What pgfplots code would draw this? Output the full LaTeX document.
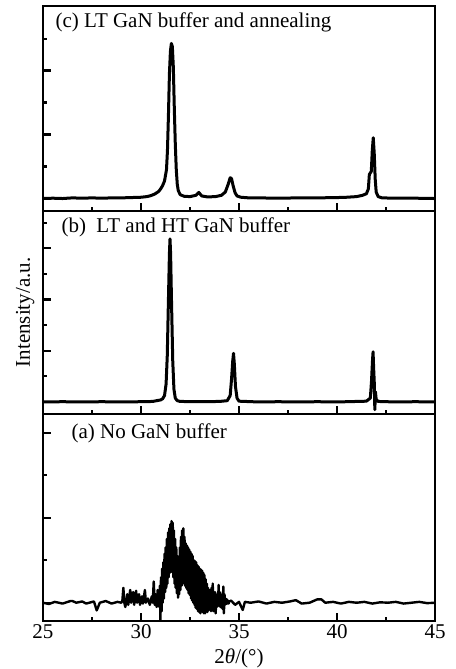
\documentclass[border=0pt]{standalone}
\usepackage{fontspec}
\setmainfont{Liberation Serif}
\usepackage{pgfplots}
\pgfplotsset{compat=1.18}
\begin{document}
\begin{tikzpicture}
\useasboundingbox (0,0) rectangle (455pt,669pt);
\pgfplotsset{
  panel/.style={
    scale only axis, width=392pt, xmin=25, xmax=45,
    xtick={25,30,35,40,45}, minor xtick={27.5,32.5,37.5,42.5},
    tick align=inside, xtick pos=bottom, ytick pos=left,
    yticklabels={}, major tick length=8pt, minor tick length=4pt,
    every tick/.style={black, line width=2.2pt},
    axis line style={line width=2.6pt},
    clip mode=individual,
    /pgf/number format/assume math mode=true,
    tick label style={font=\fontsize{21}{24}\selectfont},
    label style={font=\fontsize{21}{25}\selectfont},
    anchor=south west,
  },
  dat/.style={black, line width=3pt, line join=round, mark=none},
}
% ---------------- panel (a)
\begin{axis}[panel, at={(43pt,48pt)}, height=207pt,
  ymin=-0.43, ymax=4.44, ytick={0,2,4}, minor ytick={1,3},
  xticklabel style={anchor=base, yshift=-18pt},
  xlabel={2\textit{θ}/(°)},
  xlabel style={at={(axis description cs:0.5,-0.203)}, anchor=base}]
\addplot[dat, line width=2.4pt] coordinates {
(25.0,0.0) (25.3,-0.03) (25.6,0.02) (26.0,-0.02) (26.4,0.04) (26.5,0.04) (26.7,0.0) (27.0,0.03) (27.2,-0.02) (27.6,0.03) (27.74,-0.18) (27.9,0.0) (28.2,0.04) (28.5,-0.02) (28.8,0.02) (29.0,0.0)
(29.05,0.05) (29.1,0.35) (29.15,0.0) (29.2,-0.1) (29.3,0.2) (29.35,-0.05) (29.45,0.3) (29.5,0.0) (29.6,0.25) (29.65,-0.05) (29.75,0.28) (29.8,0.0) (29.9,0.2) (29.95,-0.05) (30.05,0.15) (30.1,-0.02) (30.2,0.3) (30.25,0.0) (30.35,0.1) (30.45,-0.05) (30.55,0.15) (30.6,0.0) (30.65,0.5) (30.7,-0.05) (30.75,0.2) (30.8,-0.1) (30.85,0.3)
(30.90,0.15) (30.93,-0.1) (30.96,0.4) (30.99,-0.4) (31.02,0.6) (31.05,-0.2) (31.08,0.8) (31.11,0.0) (31.14,0.95) (31.17,0.1) (31.20,1.15) (31.23,0.25) (31.26,1.3) (31.29,0.35) (31.32,1.5) (31.35,0.45) (31.38,1.65) (31.41,0.6) (31.44,1.75) (31.47,0.7) (31.50,1.85) (31.53,0.77) (31.56,1.92) (31.59,0.72) (31.62,1.88) (31.65,0.6) (31.68,1.7) (31.71,0.45) (31.74,1.5) (31.77,0.35) (31.80,1.3) (31.83,0.22) (31.86,1.1) (31.89,0.12) (31.92,1.05) (31.95,0.2) (31.98,1.3) (32.01,0.3) (32.04,1.55) (32.07,0.4) (32.10,1.7) (32.13,0.5) (32.16,1.75) (32.19,0.45) (32.22,1.55) (32.25,0.4) (32.28,1.4) (32.31,0.35) (32.34,1.35) (32.37,0.3) (32.40,1.3) (32.43,0.22) (32.46,1.25) (32.49,0.18) (32.52,1.2) (32.55,0.1) (32.58,1.15) (32.61,0.05) (32.64,1.1) (32.67,0.0) (32.70,1.0) (32.73,-0.05) (32.76,0.98) (32.79,-0.12) (32.82,0.95) (32.85,-0.15) (32.88,0.88) (32.91,-0.2) (32.94,0.85) (32.97,-0.22) (33.00,0.8) (33.03,-0.25) (33.06,0.78) (33.09,-0.2) (33.12,0.75) (33.15,-0.22) (33.18,0.7) (33.21,-0.25) (33.24,0.65) (33.27,-0.25) (33.30,0.55) (33.33,-0.2) (33.36,0.45) (33.39,-0.22) (33.42,0.35) (33.45,-0.18) (33.48,0.3) (33.51,-0.15) (33.54,0.3) (33.57,-0.2) (33.60,0.35) (33.63,-0.12) (33.66,0.45) (33.69,-0.2) (33.72,0.2) (33.75,-0.1) (33.78,0.25) (33.81,-0.25) (33.84,0.15) (33.87,-0.1) (33.90,0.2) (33.93,-0.08) (33.96,0.42) (33.99,-0.05) (34.02,0.25) (34.05,-0.1) (34.08,0.15) (34.11,-0.12) (34.14,0.2) (34.17,-0.15) (34.20,0.38) (34.23,-0.25) (34.26,0.2) (34.29,-0.05) (34.32,0.1) (34.35,-0.03) (34.38,0.08) (34.41,-0.02) (34.44,0.05) (34.47,-0.02) (34.50,0.03)
(34.6,0.05) (34.8,-0.05) (35.0,0.02) (35.19,-0.17) (35.3,0.02) (35.6,0.0) (36.0,0.03) (36.4,-0.02) (36.8,0.02) (37.2,0.0) (37.6,0.03) (37.9,0.06) (38.2,-0.02) (38.6,0.0) (39.0,0.08) (39.2,0.08) (39.4,0.0) (39.8,0.02) (40.2,-0.02) (40.6,0.02) (41.0,0.0) (41.4,0.02) (41.8,-0.02) (42.2,0.01) (42.6,0.0) (43.0,0.02) (43.4,-0.02) (43.8,0.0) (44.2,0.02) (44.6,-0.01) (45.0,0.0)
};
\node[anchor=base west, font=\fontsize{21}{25}\selectfont] at ([xshift=25pt,yshift=-25pt]rel axis cs:0,1) {(a) No GaN buffer};
\end{axis}
% ---------------- panel (b)
\begin{axis}[panel, at={(43pt,255pt)}, height=203pt,
  ymin=-0.47, ymax=7.46, ytick={0,2,4,6}, minor ytick={1,3,5,7},
  xticklabels={},
  ylabel={Intensity/a.u.},
  ylabel style={at={(axis description cs:-0.0332,0.5)}, anchor=base}]
\addplot[dat] coordinates {
(25,0) (26,0.01) (27,0) (28,0.01) (29,0.0) (30,0.01) (30.6,0.02) (30.8,0.05) (31.0,0.08) (31.1,0.12) (31.2,0.25) (31.28,0.7) (31.34,1.8) (31.4,4.0) (31.45,5.8) (31.48,6.37) (31.51,5.8) (31.56,3.8) (31.62,1.6) (31.68,0.5) (31.75,0.15) (31.85,0.05) (32,0.02) (33,0.01) (34,0.02) (34.4,0.05) (34.55,0.25) (34.62,0.9) (34.68,1.6) (34.72,1.9) (34.76,1.5) (34.82,0.6) (34.9,0.15) (35.0,0.03) (36,0.0) (37,0.01) (38,0.0) (39,0.01) (40,0.0) (41,0.02) (41.5,0.03) (41.7,0.15) (41.76,0.8) (41.81,1.6) (41.84,1.96) (41.87,1.3) (41.9,0.8) (41.93,-0.3) (41.96,0.4) (42.0,0.1) (42.1,0.02) (43,0.0) (44,0.01) (45,0)
};
\node[anchor=base west, font=\fontsize{21}{25}\selectfont] at ([xshift=15pt,yshift=-22pt]rel axis cs:0,1) {(b)\ \ LT and HT GaN buffer};
\end{axis}
% ---------------- panel (c)
\begin{axis}[panel, at={(43pt,458pt)}, height=205pt,
  ymin=-0.39, ymax=6.02, ytick={0,2,4}, minor ytick={1,3,5},
  xticklabels={}]
\addplot[dat] coordinates {
(25.0,0.0) (25.5,0.01) (26,0.0) (26.5,0.02) (27,0.01) (27.5,0.02) (28,0.01) (28.5,0.02) (29,0.02) (29.5,0.03) (30.0,0.04) (30.3,0.06) (30.5,0.09) (30.7,0.14) (30.9,0.22) (31.0,0.3) (31.1,0.4) (31.2,0.55) (31.3,0.9) (31.35,1.5) (31.4,2.6) (31.45,3.9) (31.5,4.6) (31.55,4.85) (31.6,4.75) (31.65,4.1) (31.7,2.8) (31.75,1.7) (31.8,0.9) (31.85,0.45) (31.9,0.25) (32.0,0.12) (32.2,0.07) (32.5,0.06) (32.8,0.1) (32.95,0.19) (33.1,0.08) (33.4,0.05) (33.8,0.06) (34.1,0.1) (34.3,0.2) (34.45,0.45) (34.55,0.65) (34.62,0.62) (34.7,0.4) (34.8,0.18) (34.9,0.08) (35.1,0.04) (35.5,0.02) (36,0.02) (37,0.01) (38,0.02) (39,0.02) (40,0.03) (40.5,0.04) (41.0,0.06) (41.3,0.1) (41.5,0.15) (41.6,0.3) (41.65,0.75) (41.7,0.8) (41.75,0.85) (41.8,1.5) (41.85,1.9) (41.9,1.4) (41.95,0.6) (42.0,0.2) (42.1,0.06) (42.3,0.02) (43,0.01) (44,0.01) (45,0.0)
};
\node[anchor=base west, font=\fontsize{21}{25}\selectfont] at ([xshift=9pt,yshift=-22pt]rel axis cs:0,1) {(c) LT GaN buffer and annealing};
\end{axis}
\end{tikzpicture}
\end{document}
